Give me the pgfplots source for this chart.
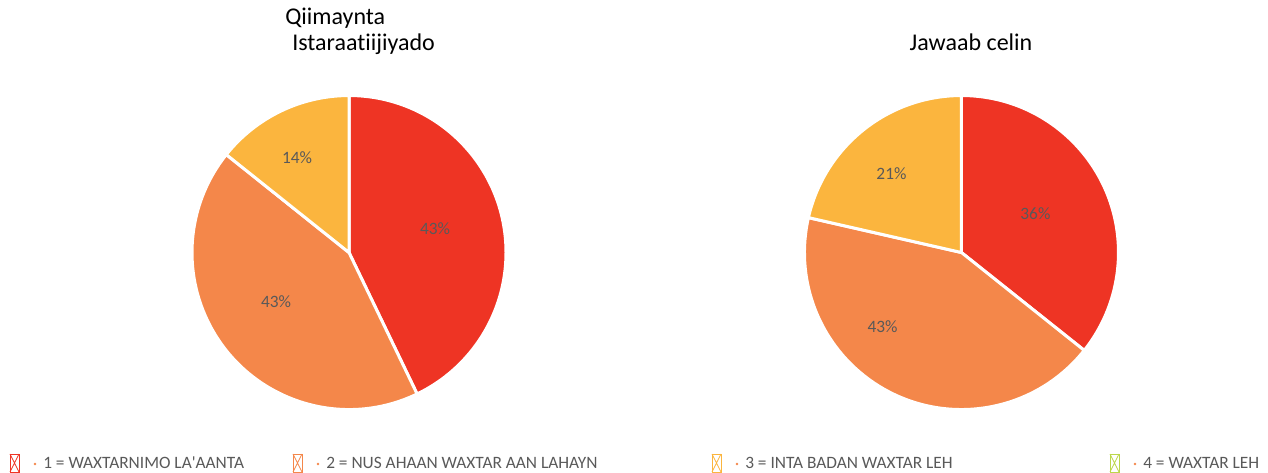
\documentclass[border=0pt]{standalone}
\usepackage{pgfplots}
\pgfplotsset{compat=1.18}
\usepackage{fontspec}
\setmainfont{Carlito}[Ligatures={TeXOff,NoCommon}]

\definecolor{cRed}{HTML}{EE3424}
\definecolor{cOrange}{HTML}{F4874A}
\definecolor{cYellow}{HTML}{FBB53E}
\definecolor{cGreen}{HTML}{BBD64B}
\definecolor{txt}{HTML}{595959}

% one wedge: cumulative share at start and end (percent), colour
\newcommand\slice[3]{%
  \fill[#3, draw=white, line width=2.25pt, line join=round]
    (axis cs:0,0) -- (axis cs:{cos(90-3.6*(#1))},{sin(90-3.6*(#1))})
    arc[start angle={90-3.6*(#1)}, end angle={90-3.6*(#2)}, radius=117.75pt] -- cycle;}

\pgfplotsset{
  pie/.style={
    width=235.5pt, height=235.5pt, scale only axis,
    xmin=-1, xmax=1, ymin=-1, ymax=1,
    hide axis, clip=false, anchor=center,
  },
}
\tikzset{lbl/.style={text=txt, font=\fontsize{13}{15}\selectfont}}

\begin{document}
\begin{tikzpicture}
\useasboundingbox (0,0) rectangle (951pt,-354.75pt);

% shares: 42.86 / 42.86 / 14.28
\begin{axis}[pie, at={(261.75pt,-189.4pt)}]
  \slice{0}{42.86}{cRed}
  \slice{42.86}{85.72}{cOrange}
  \slice{85.72}{100}{cYellow}
  \node[lbl] at (axis cs:0.548,0.153) {43\%};
  \node[lbl] at (axis cs:-0.465,-0.312) {43\%};
  \node[lbl] at (axis cs:-0.331,0.605) {14\%};
\end{axis}

% shares: 35.71 / 42.86 / 21.43
\begin{axis}[pie, at={(721.1pt,-189.4pt)}]
  \slice{0}{35.71}{cRed}
  \slice{35.71}{78.57}{cOrange}
  \slice{78.57}{100}{cYellow}
  \node[lbl] at (axis cs:0.471,0.248) {36\%};
  \node[lbl] at (axis cs:-0.503,-0.471) {43\%};
  \node[lbl] at (axis cs:-0.446,0.503) {21\%};
\end{axis}

\begin{scope}[x=0.75pt, y=-0.75pt]
  \node[anchor=base west, inner sep=0pt, text=black, font=\fontsize{18}{22}\selectfont] at (285,25) {Qiimaynta};
  \node[anchor=base west, inner sep=0pt, text=black, font=\fontsize{18}{22}\selectfont] at (292,51) {Istaraatiijiyado};
  \node[anchor=base, inner sep=0pt, text=black, font=\fontsize{18}{22}\selectfont] at (971,51) {Jawaab celin};

  \foreach \bx/\col/\lab in {10/cRed/{1 = WAXTARNIMO LA'AANTA},
                             293/cOrange/{2 = NUS AHAAN WAXTAR AAN LAHAYN},
                             712/cYellow/{3 = INTA BADAN WAXTAR LEH},
                             1110/cGreen/{4 = WAXTAR LEH}} {
    \draw[\col, line width=0.6pt] (\bx,454) rectangle ++(9,18);
    \draw[\col, line width=0.6pt] (\bx,454) -- ++(9,18) (\bx+9,454) -- ++(-9,18);
    \fill[cOrange] (\bx+25,464) circle[radius=1pt];
    \node[lbl, anchor=base west, inner sep=0pt] at (\bx+33,469) {\lab};
  }
\end{scope}
\end{tikzpicture}
\end{document}
